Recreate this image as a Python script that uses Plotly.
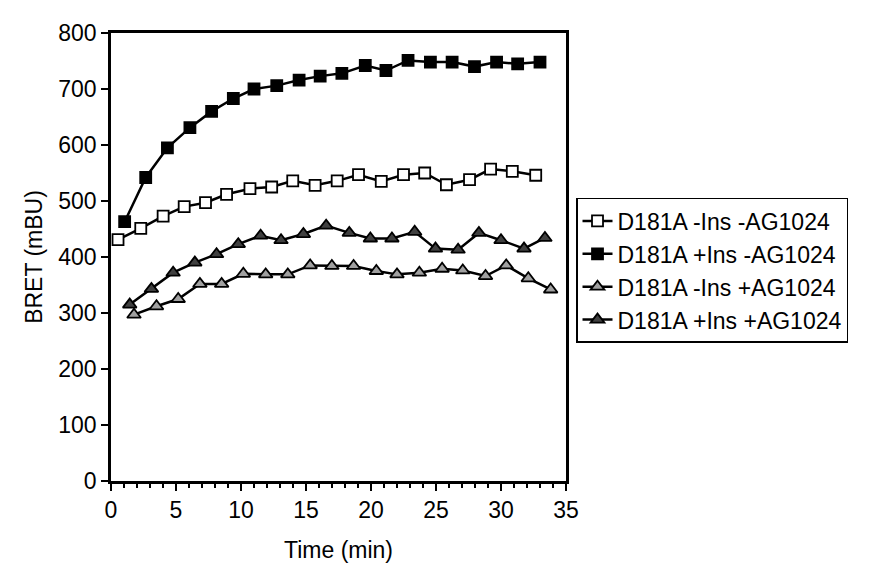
import plotly.graph_objects as go

# Time points (min) for each series
t_open_sq = [0.54, 2.29, 4.01, 5.63, 7.27, 8.89, 10.69, 12.36, 13.98, 15.70,
             17.40, 19.04, 20.79, 22.50, 24.13, 25.80, 27.58, 29.20, 30.87, 32.67]
v_open_sq = [431, 451, 473, 490, 497, 512, 522, 525, 536, 528,
             536, 547, 535, 547, 550, 529, 538, 557, 553, 546]

t_fill_sq = [1.05, 2.67, 4.34, 6.07, 7.74, 9.41, 11.00, 12.75, 14.47, 16.09,
             17.76, 19.56, 21.15, 22.85, 24.57, 26.24, 27.96, 29.66, 31.28, 33.00]
v_fill_sq = [463, 542, 595, 631, 660, 683, 700, 706, 716, 723,
             728, 742, 733, 751, 748, 748, 740, 748, 745, 748]

t_open_tri = [1.77, 3.50, 5.17, 6.84, 8.51, 10.18, 11.90, 13.60, 15.32, 16.99,
              18.66, 20.41, 22.00, 23.72, 25.47, 27.06, 28.81, 30.40, 32.10, 33.82]
v_open_tri = [297, 312, 325, 352, 352, 370, 369, 369, 385, 384,
              384, 375, 369, 372, 379, 376, 366, 385, 362, 342]

t_fill_tri = [1.44, 3.11, 4.78, 6.45, 8.12, 9.79, 11.51, 13.08, 14.80, 16.55,
              18.33, 19.95, 21.61, 23.36, 24.96, 26.70, 28.30, 30.00, 31.77, 33.38]
v_fill_tri = [315, 343, 372, 390, 405, 423, 438, 430, 441, 456,
              443, 433, 433, 445, 415, 413, 443, 430, 415, 434]

names = ["D181A -Ins -AG1024", "D181A +Ins -AG1024",
         "D181A -Ins +AG1024", "D181A +Ins +AG1024"]

x_ticks = [0, 5, 10, 15, 20, 25, 30, 35]
y_ticks = [0, 100, 200, 300, 400, 500, 600, 700, 800]

FONT = "Liberation Sans, Arial, sans-serif"
FS = 23

fig = go.Figure()

series = [
    (t_open_sq, v_open_sq, names[0], "square", 11, "white"),
    (t_fill_sq, v_fill_sq, names[1], "square", 11, "black"),
    (t_open_tri, v_open_tri, names[2], "triangle-up", 12, "#a0a0a0"),
    (t_fill_tri, v_fill_tri, names[3], "triangle-up", 12, "#404040"),
]
for t, v, nm, sym, sz, fill in series:
    fig.add_trace(go.Scatter(
        x=t, y=v, name=nm, mode="lines+markers",
        line=dict(color="black", width=2.5),
        marker=dict(symbol=sym, size=sz, color=fill,
                    line=dict(color="black", width=1.8)),
    ))

fig.update_layout(
    width=885, height=568,
    margin=dict(l=103, r=327, t=20, b=95),
    paper_bgcolor="white", plot_bgcolor="white",
    font=dict(family=FONT, size=FS, color="black"),
    showlegend=True,
    legend=dict(
        x=1.022, xanchor="left", y=0.47, yanchor="middle",
        bgcolor="white", bordercolor="black", borderwidth=1.5,
        font=dict(family=FONT, size=FS, color="black"),
        tracegroupgap=0, itemwidth=30,
        entrywidth=265, entrywidthmode="pixels",
    ),
)

fig.update_xaxes(
    range=[0, 35], tickmode="array", tickvals=x_ticks,
    ticktext=[str(v) for v in x_ticks],
    showline=True, linecolor="black", linewidth=2.5, mirror=True,
    ticks="outside", ticklen=7, tickwidth=2, tickcolor="black",
    minor=dict(dtick=1, ticks="outside", ticklen=4, tickwidth=1.5, tickcolor="black"),
    showgrid=False, zeroline=False,
    tickfont=dict(size=FS),
    title=dict(text="Time (min)", font=dict(size=FS), standoff=20),
)
fig.update_yaxes(
    range=[0, 800], tickmode="array", tickvals=y_ticks,
    ticktext=[str(v) for v in y_ticks],
    showline=True, linecolor="black", linewidth=2.5, mirror=True,
    ticks="outside", ticklen=7, tickwidth=2, tickcolor="black",
    showgrid=False, zeroline=False,
    tickfont=dict(size=FS),
    title=dict(text="BRET (mBU)", font=dict(size=FS), standoff=10),
)

fig.write_html("out.html")
